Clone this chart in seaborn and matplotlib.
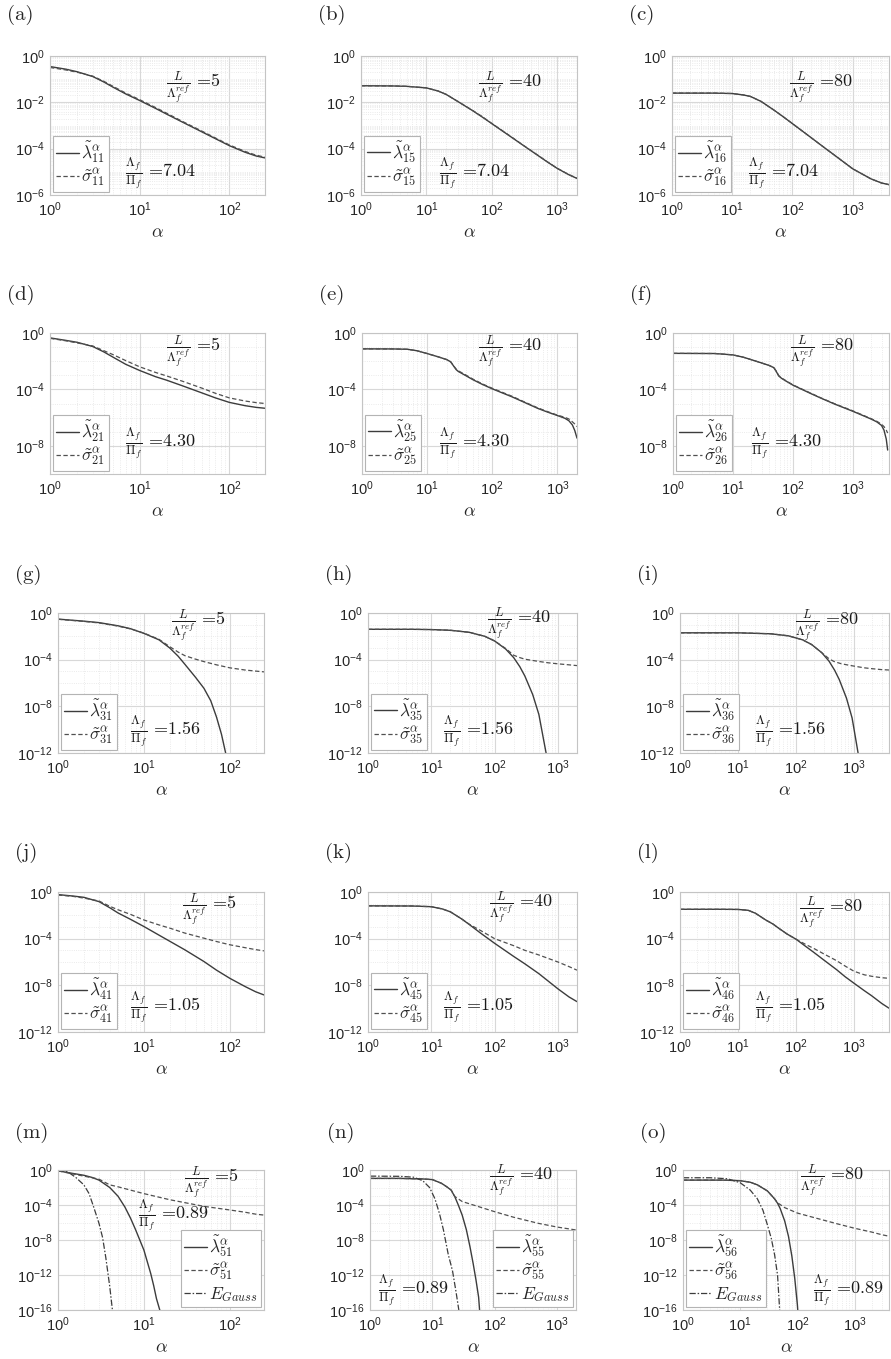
import numpy as np
import pandas as pd
import matplotlib
matplotlib.use('Agg')
import matplotlib.pyplot as plt
import seaborn as sns
from matplotlib.ticker import FixedLocator, FuncFormatter, NullFormatter
from matplotlib.font_manager import FontProperties

# ---- data (alpha, normalised eigenvalue / variance) ----
# row 1: Lambda_f/Pi_f = 7.04
a_x = [1, 1.5, 2, 3, 4, 5, 7, 10, 15, 20, 30, 50, 70, 100, 150, 200, 250]
a_lam = [0.35, 0.27, 0.21, 0.13, 0.075, 0.046, 0.023, 0.012, 0.0055, 0.0031, 0.0014, 5.2e-4, 2.7e-4, 1.35e-4, 7e-5, 4.8e-5, 4e-5]
a_sig = [0.32, 0.25, 0.2, 0.135, 0.08, 0.05, 0.025, 0.013, 0.006, 0.0034, 0.0015, 5.6e-4, 2.9e-4, 1.45e-4, 7.6e-5, 5.2e-5, 4.3e-5]

b_x = [1, 3, 5, 10, 15, 20, 30, 50, 70, 100, 200, 300, 500, 700, 1000, 1500, 2000]
b_lam = [0.052, 0.051, 0.049, 0.042, 0.031, 0.022, 0.011, 0.0045, 0.0024, 1.2e-3, 3.1e-4, 1.4e-4, 5.2e-5, 2.7e-5, 1.4e-5, 7.5e-6, 5.2e-6]
b_sig = [0.052, 0.051, 0.049, 0.042, 0.031, 0.022, 0.011, 0.0046, 0.0025, 1.22e-3, 3.2e-4, 1.42e-4, 5.3e-5, 2.75e-5, 1.42e-5, 7.6e-6, 5.3e-6]

c_x = [1, 5, 10, 15, 20, 30, 50, 70, 100, 200, 300, 500, 1000, 2000, 3000, 4000]
c_lam = [0.025, 0.025, 0.024, 0.021, 0.018, 0.011, 0.0045, 0.0024, 1.2e-3, 3.1e-4, 1.4e-4, 5.2e-5, 1.35e-5, 5e-6, 3.3e-6, 2.8e-6]
c_sig = [0.025, 0.025, 0.024, 0.021, 0.018, 0.011, 0.0045, 0.0024, 1.2e-3, 3.1e-4, 1.4e-4, 5.2e-5, 1.35e-5, 5e-6, 3.3e-6, 2.8e-6]

# row 2: Lambda_f/Pi_f = 4.30
d_x = [1, 1.5, 2, 3, 4, 5, 7, 10, 15, 20, 30, 50, 70, 100, 150, 200, 250]
d_lam = [0.45, 0.3, 0.22, 0.11, 0.045, 0.02, 0.006, 2.2e-3, 8e-4, 4.5e-4, 1.8e-4, 5.5e-5, 2.5e-5, 1.2e-5, 7e-6, 5.3e-6, 4.6e-6]
d_sig = [0.42, 0.28, 0.2, 0.12, 0.055, 0.03, 0.011, 4e-3, 1.6e-3, 9e-4, 3.8e-4, 1.2e-4, 5.3e-5, 2.5e-5, 1.5e-5, 1.15e-5, 1e-5]

e_x = [1, 3, 5, 7, 10, 15, 20, 23, 26, 28, 30, 40, 50, 70, 100, 200, 300, 500, 700, 1000, 1300, 1500, 1700, 1850, 2000]
e_lam = [0.075, 0.074, 0.07, 0.055, 0.035, 0.02, 0.013, 0.009, 0.004, 0.0025, 0.0019, 9e-4, 5e-4, 2.3e-4, 1.1e-4, 3e-5, 1.3e-5, 4.5e-6, 2.5e-6, 1.4e-6, 9e-7, 6e-7, 3e-7, 1.2e-7, 3.5e-8]
e_sig = [0.075, 0.074, 0.07, 0.055, 0.035, 0.02, 0.013, 0.009, 0.0042, 0.0027, 0.0021, 1e-3, 5.5e-4, 2.5e-4, 1.2e-4, 3.3e-5, 1.4e-5, 4.9e-6, 2.7e-6, 1.5e-6, 1.05e-6, 8e-7, 5e-7, 3.5e-7, 2.3e-7]

f_x = [1, 5, 10, 15, 20, 30, 40, 48, 53, 58, 65, 80, 100, 200, 300, 500, 1000, 2000, 2500, 3000, 3300, 3600, 3800]
f_lam = [0.036, 0.035, 0.028, 0.019, 0.013, 0.0075, 0.005, 0.0035, 0.0018, 9e-4, 6e-4, 3.5e-4, 2e-4, 5e-5, 2.3e-5, 9e-6, 2.8e-6, 8e-7, 5e-7, 2.8e-7, 1.3e-7, 3e-8, 5e-9]
f_sig = [0.036, 0.035, 0.028, 0.019, 0.013, 0.0075, 0.005, 0.0035, 0.0019, 9.5e-4, 6.3e-4, 3.7e-4, 2.1e-4, 5.3e-5, 2.4e-5, 9.5e-6, 3e-6, 8.5e-7, 5.5e-7, 3.4e-7, 2.3e-7, 1.3e-7, 8e-8]

# row 3: Lambda_f/Pi_f = 1.56
g_lam_x = [1, 2, 3, 5, 7, 10, 15, 20, 25, 30, 40, 50, 60, 70, 80, 90]
g_lam = [0.3, 0.2, 0.15, 0.08, 0.045, 0.018, 0.005, 1e-3, 2e-4, 4e-5, 3e-6, 3.5e-7, 3e-8, 1.2e-9, 4e-11, 8e-13]
g_sig_x = [1, 2, 3, 5, 7, 10, 15, 20, 25, 30, 40, 50, 70, 100, 150, 200, 250]
g_sig = [0.29, 0.19, 0.14, 0.075, 0.043, 0.019, 0.0055, 1.3e-3, 4.5e-4, 2.2e-4, 1.1e-4, 6.8e-5, 3.6e-5, 2e-5, 1.3e-5, 1.05e-5, 9e-6]

h_lam_x = [1, 5, 10, 20, 40, 70, 100, 150, 200, 250, 300, 400, 500, 600, 650]
h_lam = [0.04, 0.04, 0.038, 0.033, 0.022, 0.01, 4e-3, 8e-4, 1.5e-4, 2.5e-5, 4e-6, 1e-7, 2e-9, 1e-11, 1e-12]
h_sig_x = [1, 5, 10, 20, 40, 70, 100, 150, 200, 250, 300, 500, 700, 1000, 1500, 2000]
h_sig = [0.04, 0.04, 0.038, 0.033, 0.022, 0.01, 4e-3, 9e-4, 2.4e-4, 1.5e-4, 1.1e-4, 7e-5, 5.4e-5, 4.4e-5, 3.6e-5, 3.1e-5]

i_lam_x = [1, 10, 37, 74, 130, 185, 277, 370, 462, 555, 740, 925, 1110, 1200]
i_lam = [0.02, 0.02, 0.0165, 0.011, 5e-3, 2e-3, 4e-4, 7.5e-5, 1.25e-5, 2e-6, 5e-8, 1e-9, 5e-12, 5e-13]
i_sig_x = [1, 10, 37, 74, 130, 185, 277, 370, 450, 600, 800, 1000, 1500, 2000, 3000, 4000]
i_sig = [0.02, 0.02, 0.0165, 0.011, 5e-3, 2e-3, 4e-4, 1.2e-4, 7e-5, 4.5e-5, 3.4e-5, 2.8e-5, 2e-5, 1.7e-5, 1.4e-5, 1.3e-5]

# row 4: Lambda_f/Pi_f = 1.05
j_x = [1, 1.5, 2, 3, 4, 5, 7, 10, 15, 20, 30, 50, 70, 100, 150, 200, 250]
j_lam = [0.6, 0.45, 0.35, 0.15, 0.045, 0.016, 4.5e-3, 1.1e-3, 2e-4, 6e-5, 1.1e-5, 1.1e-6, 2e-7, 4e-8, 8e-9, 2.8e-9, 1.5e-9]
j_sig = [0.55, 0.42, 0.3, 0.17, 0.06, 0.03, 0.012, 4e-3, 1.5e-3, 8e-4, 3e-4, 1.1e-4, 5.7e-5, 3e-5, 1.7e-5, 1.15e-5, 9e-6]

k_x = [1, 5, 10, 15, 20, 30, 40, 60, 100, 200, 300, 500, 1000, 1500, 2000]
k_lam = [0.065, 0.063, 0.055, 0.035, 0.02, 5e-3, 1.6e-3, 3e-4, 4e-5, 3e-6, 7e-7, 1e-7, 5e-9, 1e-9, 4e-10]
k_sig = [0.065, 0.063, 0.055, 0.035, 0.02, 5e-3, 1.7e-3, 5e-4, 1e-4, 2.5e-5, 1e-5, 4e-6, 1e-6, 4e-7, 2e-7]

l_x = [1, 5, 10, 15, 20, 30, 40, 50, 70, 100, 150, 200, 300, 500, 700, 1000, 1500, 2000, 3000, 4000]
l_lam = [0.033, 0.033, 0.032, 0.027, 0.015, 4e-3, 1.8e-3, 8e-4, 2.5e-4, 9e-5, 2e-5, 7e-6, 1.5e-6, 2.2e-7, 5.5e-8, 1.5e-8, 3.5e-9, 1.3e-9, 2.8e-10, 1.1e-10]
l_sig = [0.033, 0.033, 0.032, 0.027, 0.015, 4e-3, 1.8e-3, 8e-4, 2.5e-4, 9e-5, 3e-5, 1.5e-5, 5e-6, 1.3e-6, 4.5e-7, 1.6e-7, 8e-8, 6e-8, 4.5e-8, 4e-8]

# row 5: Lambda_f/Pi_f = 0.89 (with Gaussian-kernel reference)
m_lam_x = [1, 1.5, 2, 2.5, 3, 4, 5, 6, 7, 8, 10, 12, 13, 14, 15.3]
m_lam = [0.8, 0.4, 0.25, 0.14, 0.07, 0.01, 1e-3, 6e-5, 3e-6, 1.5e-7, 7e-10, 1.5e-12, 6e-14, 2e-15, 1e-16]
m_sig_x = [1, 1.5, 2, 3, 4, 5, 7, 10, 20, 50, 100, 150, 200, 250]
m_sig = [0.8, 0.35, 0.2, 0.09, 0.02, 0.012, 5e-3, 2e-3, 4e-4, 7e-5, 2.7e-5, 1.5e-5, 9e-6, 7e-6]
m_gau_x = [1, 1.3, 1.6, 2, 2.3, 2.6, 3, 3.3, 3.6, 4, 4.3]
m_gau = [1.0, 0.6, 0.15, 0.02, 2e-3, 6e-5, 8e-7, 2e-8, 1e-10, 5e-14, 1e-16]

n_lam_x = [1, 3, 5, 7, 10, 14, 17, 20, 23, 26, 30, 35, 40, 45, 50, 55, 57]
n_lam = [0.11, 0.11, 0.1, 0.095, 0.08, 0.03, 0.012, 5e-3, 8e-4, 1e-4, 7e-6, 1.5e-7, 1.7e-9, 2e-11, 2.5e-13, 3e-15, 1e-16]
n_sig_x = [1, 3, 5, 7, 10, 14, 17, 20, 23, 30, 50, 100, 200, 500, 1000, 2000]
n_sig = [0.11, 0.11, 0.1, 0.095, 0.08, 0.03, 0.012, 5e-3, 9e-4, 2.5e-4, 8e-5, 1.7e-5, 4e-6, 8e-7, 3e-7, 1.4e-7]
n_gau_x = [1, 3, 5, 7, 9, 11, 13, 15, 18, 21, 24, 26.5]
n_gau = [0.2, 0.19, 0.15, 0.06, 0.01, 5e-4, 1e-5, 1.5e-7, 2e-10, 3e-12, 1e-14, 1e-16]

o_lam_x = [1, 5, 10, 15, 20, 30, 40, 45, 50, 60, 70, 80, 90, 100, 104]
o_lam = [0.07, 0.07, 0.06, 0.04, 0.02, 4e-3, 5e-4, 1.6e-4, 4e-5, 1.5e-6, 2.5e-8, 1.5e-10, 4e-13, 4e-16, 1e-17]
o_sig_x = [1, 5, 10, 15, 20, 30, 40, 45, 60, 100, 200, 500, 1000, 2000, 3000, 3800]
o_sig = [0.07, 0.07, 0.06, 0.04, 0.02, 4e-3, 5e-4, 1.8e-4, 5e-5, 1.2e-5, 3.5e-6, 7e-7, 2.2e-7, 8e-8, 4e-8, 2.9e-8]
o_gau_x = [1, 3, 6, 10, 15, 20, 25, 30, 35, 40, 45, 49]
o_gau = [0.13, 0.13, 0.1, 0.035, 5e-3, 5e-4, 2.5e-5, 5e-7, 1.5e-8, 2e-10, 1e-12, 1e-16]

tags = list('abcdefghijklmno')
ratio_L = ['5', '40', '80']
ratio_pi = ['7.04', '4.30', '1.56', '1.05', '0.89']
mode_idx = ['1', '5', '6']

series = [
    [(a_x, a_lam, a_x, a_sig, None), (b_x, b_lam, b_x, b_sig, None), (c_x, c_lam, c_x, c_sig, None)],
    [(d_x, d_lam, d_x, d_sig, None), (e_x, e_lam, e_x, e_sig, None), (f_x, f_lam, f_x, f_sig, None)],
    [(g_lam_x, g_lam, g_sig_x, g_sig, None), (h_lam_x, h_lam, h_sig_x, h_sig, None), (i_lam_x, i_lam, i_sig_x, i_sig, None)],
    [(j_x, j_lam, j_x, j_sig, None), (k_x, k_lam, k_x, k_sig, None), (l_x, l_lam, l_x, l_sig, None)],
    [(m_lam_x, m_lam, m_sig_x, m_sig, (m_gau_x, m_gau)),
     (n_lam_x, n_lam, n_sig_x, n_sig, (n_gau_x, n_gau)),
     (o_lam_x, o_lam, o_sig_x, o_sig, (o_gau_x, o_gau))],
]

# ---- layout (pixels of the 891x1359 canvas) ----
W, H = 891, 1359
row_tb = [(56, 195), (333, 474), (613, 753), (892, 1032), (1170, 1310)]
col_lr = [[(50, 265), (361, 577), (672, 889)],
          [(50, 265), (362, 577), (673, 889)],
          [(58, 264), (368, 577), (680, 889)],
          [(58, 264), (368, 577), (680, 889)],
          [(58, 264), (370, 576), (683, 889)]]
tag_y = [15, 295, 575, 853, 1133]
xmax = [250, 2000, 4000]
ylo = [-6, -10, -12, -12, -16]
ymaj = [[-6, -4, -2, 0], [-8, -4, 0], [-12, -8, -4, 0], [-12, -8, -4, 0], [-16, -12, -8, -4, 0]]
txt_L = [[(0.54, 0.77)] * 3, [(0.54, 0.87)] * 3,
         [(0.55, 0.91), (0.57, 0.92), (0.55, 0.91)],
         [(0.60, 0.87), (0.58, 0.89), (0.57, 0.85)],
         [(0.61, 0.91), (0.58, 0.92), (0.57, 0.92)]]
txt_P = [[(0.35, 0.16), (0.36, 0.16), (0.35, 0.16)],
         [(0.35, 0.22), (0.36, 0.22), (0.36, 0.22)],
         [(0.35, 0.16), (0.36, 0.16), (0.36, 0.16)],
         [(0.35, 0.18), (0.36, 0.18), (0.36, 0.18)],
         [(0.39, 0.68), (0.04, 0.14), (0.63, 0.14)]]
leg_loc = [['lower left'] * 3] * 4 + [['lower right', 'lower right', 'lower left']]

sns.set_style('white')
plt.rcParams['font.family'] = ['Liberation Sans', 'DejaVu Sans']
plt.rcParams['mathtext.fontset'] = 'custom'
plt.rcParams['mathtext.rm'] = 'Liberation Sans'
plt.rcParams['mathtext.it'] = 'Liberation Sans:italic'

c_solid = '#3c3c3c'
c_dash = '#505050'
grid_major = '#d8d8d8'
grid_minor = '#e4e4e4'
cm_leg = FontProperties(size=12.5, math_fontfamily='cm')

fmt = FuncFormatter(lambda v, p: r'10$^{%d}$' % int(round(np.log10(v))))

fig = plt.figure(figsize=(W / 100, H / 100), dpi=100)

for r in range(5):
    top, bot = row_tb[r]
    for c in range(3):
        lft, rgt = col_lr[r][c]
        ax = fig.add_axes([lft / W, 1 - bot / H, (rgt - lft) / W, (bot - top) / H])
        lx, ly, sx, sy, gauss = series[r][c]
        sub = f'{r + 1}{mode_idx[c]}'

        sns.lineplot(x=lx, y=ly, ax=ax, color=c_solid, lw=1.0, estimator=None,
                     sort=False, label=r'$\tilde{\lambda}_{%s}^{\alpha}$' % sub)
        sns.lineplot(x=sx, y=sy, ax=ax, color=c_dash, lw=0.9, estimator=None,
                     sort=False, linestyle=(0, (3.5, 2)), label=r'$\tilde{\sigma}_{%s}^{\alpha}$' % sub)
        if gauss is not None:
            sns.lineplot(x=gauss[0], y=gauss[1], ax=ax, color=c_solid, lw=0.9, estimator=None,
                         sort=False, linestyle=(0, (5, 1.5, 1.2, 1.5)), label=r'$E_{Gauss}$')

        ax.set_xscale('log')
        ax.set_yscale('log')
        ax.set_xlim(1, xmax[c])
        ax.set_ylim(10.0 ** ylo[r], 1)

        # ticks and MATLAB-like grid
        xdec = int(np.ceil(np.log10(xmax[c])))
        ax.xaxis.set_major_locator(FixedLocator([10.0 ** k for k in range(0, xdec)]))
        ax.xaxis.set_minor_locator(FixedLocator([m * 10.0 ** k for k in range(0, xdec) for m in range(2, 10)]))
        ax.yaxis.set_major_locator(FixedLocator([10.0 ** k for k in ymaj[r]]))
        if r == 0:
            ymin_loc = [m * 10.0 ** k for k in range(ylo[r], 0) for m in range(1, 10)]
        else:
            ymin_loc = [10.0 ** k for k in range(ylo[r], 0)]
        ymin_loc = [v for v in ymin_loc if not np.any(np.isclose(v, [10.0 ** k for k in ymaj[r]]))]
        ax.yaxis.set_minor_locator(FixedLocator(ymin_loc))
        ax.xaxis.set_major_formatter(fmt)
        ax.yaxis.set_major_formatter(fmt)
        ax.xaxis.set_minor_formatter(NullFormatter())
        ax.yaxis.set_minor_formatter(NullFormatter())
        ax.grid(True, which='major', color=grid_major, lw=0.8)
        ax.grid(True, which='minor', color=grid_minor, lw=0.6, ls=':')
        ax.set_axisbelow(True)
        ax.tick_params(which='both', direction='in', length=0, labelsize=10.5,
                       labelcolor='#262626', pad=4)
        for s in ax.spines.values():
            s.set_color('#c4c4c4')
            s.set_linewidth(0.8)

        ax.set_ylabel('')
        ax.set_xlabel(r'$\alpha$', fontsize=13, math_fontfamily='cm', labelpad=4)

        tx, ty = txt_L[r][c]
        ax.text(tx, ty, r'$\frac{L}{\Lambda_f^{ref}}$ =%s' % ratio_L[c], transform=ax.transAxes,
                ha='left', va='center', fontsize=13, fontfamily='cmr10', math_fontfamily='cm',
                color='#1a1a1a')
        tx, ty = txt_P[r][c]
        ax.text(tx, ty, r'$\frac{\Lambda_f}{\Pi_f}$ =%s' % ratio_pi[r], transform=ax.transAxes,
                ha='left', va='center', fontsize=13, fontfamily='cmr10', math_fontfamily='cm',
                color='#1a1a1a')

        leg = ax.legend(loc=leg_loc[r][c], prop=cm_leg, frameon=True, fancybox=False,
                        edgecolor='#b4b4b4', framealpha=1, handlelength=1.3, handletextpad=0.15,
                        borderpad=0.2, labelspacing=0.1, borderaxespad=0.15)
        leg.get_frame().set_linewidth(0.8)

        fig.text((lft - 43) / W, 1 - tag_y[r] / H, '(%s)' % tags[3 * r + c],
                 fontsize=15, fontfamily='cmr10', ha='left', va='center')

fig.savefig('out.png', dpi=100)
